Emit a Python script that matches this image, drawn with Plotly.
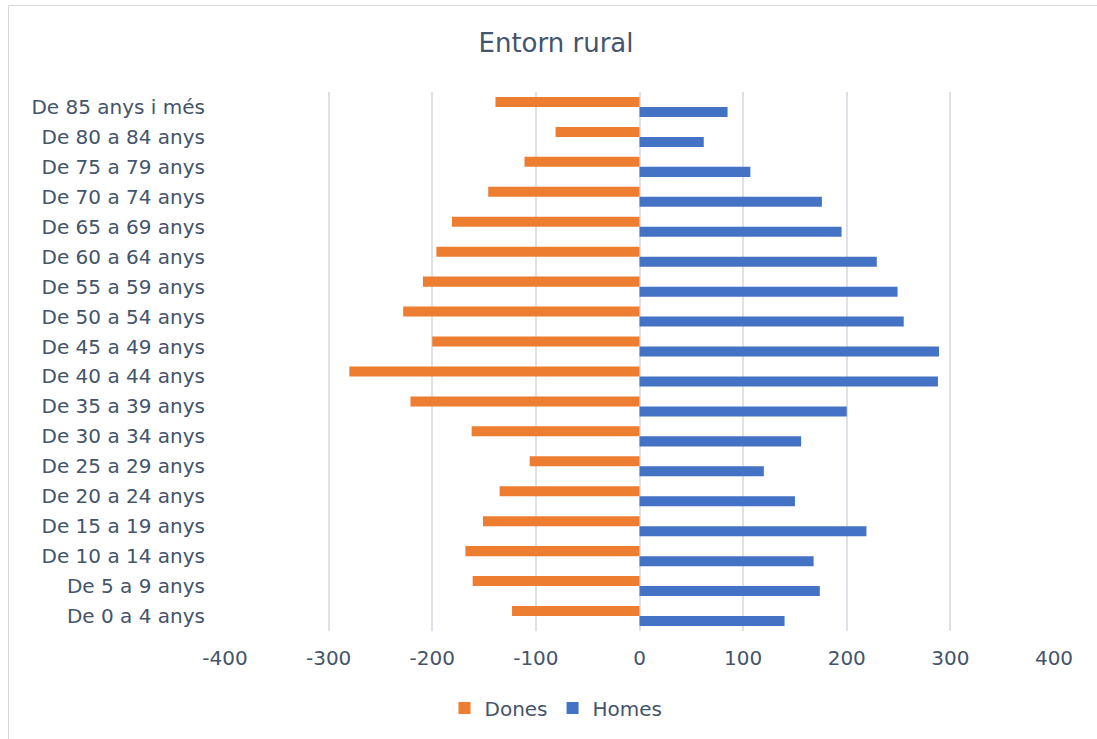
import plotly.graph_objects as go

categories = ["De 0 a 4 anys", "De 5 a 9 anys", "De 10 a 14 anys", "De 15 a 19 anys",
              "De 20 a 24 anys", "De 25 a 29 anys", "De 30 a 34 anys", "De 35 a 39 anys",
              "De 40 a 44 anys", "De 45 a 49 anys", "De 50 a 54 anys", "De 55 a 59 anys",
              "De 60 a 64 anys", "De 65 a 69 anys", "De 70 a 74 anys", "De 75 a 79 anys",
              "De 80 a 84 anys", "De 85 anys i més"]
dones = [-123, -161, -168, -151, -135, -106, -162, -221, -280, -200, -228, -209,
         -196, -181, -146, -111, -81, -139]
homes = [140, 174, 168, 219, 150, 120, 156, 200, 288, 289, 255, 249,
         229, 195, 176, 107, 62, 85]
tick_vals = [-400, -300, -200, -100, 0, 100, 200, 300, 400]
tick_text = ["-400", "-300", "-200", "-100", "0", "100", "200", "300", "400"]

FONT = "DejaVu Sans"
TXT = "#44546A"

fig = go.Figure()
fig.add_trace(go.Bar(y=categories, x=homes, name="Homes", orientation="h",
                     marker=dict(color="#4472C4", line=dict(width=0))))
fig.add_trace(go.Bar(y=categories, x=dones, name="Dones", orientation="h",
                     marker=dict(color="#ED7D31", line=dict(width=0))))

W, H = 1097, 739
ml, mr, mt, mb = 225, 43, 92, 108
pw, ph = W - ml - mr, H - mt - mb

def px_x(p):
    return (p - ml) / pw

def px_y(p):
    return (H - mb - p) / ph

fig.update_layout(
    width=W, height=H,
    margin=dict(l=ml, r=mr, t=mt, b=mb, pad=0, autoexpand=False),
    paper_bgcolor="white", plot_bgcolor="white",
    barmode="group", bargap=0.33, bargroupgap=0,
    font=dict(family=FONT, color=TXT, size=20),
    title=dict(text="Entorn rural", xref="container", x=556 / W, xanchor="center",
               yref="container", y=1 - 43 / H, yanchor="middle",
               font=dict(family=FONT, size=26, color=TXT)),
    xaxis=dict(range=[-400, 400], tickvals=tick_vals, ticktext=tick_text,
               showgrid=True, gridcolor="#DEE2E8", gridwidth=1.5,
               zeroline=True, zerolinecolor="#DEE2E8", zerolinewidth=1.5,
               showline=False, ticks="", tickfont=dict(size=20, color=TXT),
               ticklabelstandoff=13, automargin=False, fixedrange=True),
    yaxis=dict(categoryorder="array", categoryarray=categories,
               showgrid=False, zeroline=False, showline=False, ticks="",
               ticklabelstandoff=19, automargin=False, fixedrange=True,
               tickfont=dict(size=20, color=TXT)),
    legend=dict(orientation="h", xref="container", x=556 / W, xanchor="center",
                yref="container", y=1 - 708 / H, yanchor="middle",
                traceorder="reversed", font=dict(size=20, color=TXT),
                itemwidth=30, tracegroupgap=0),
    shapes=[dict(type="rect", xref="paper", yref="paper",
                 x0=px_x(8.5), x1=px_x(1300), y0=px_y(900), y1=px_y(5.5),
                 line=dict(color="#D9D9D9", width=1), fillcolor="rgba(0,0,0,0)",
                 layer="below")],
)

fig.write_html("out.html", config={"displayModeBar": False},
               post_script="document.body.style.margin='0';")
